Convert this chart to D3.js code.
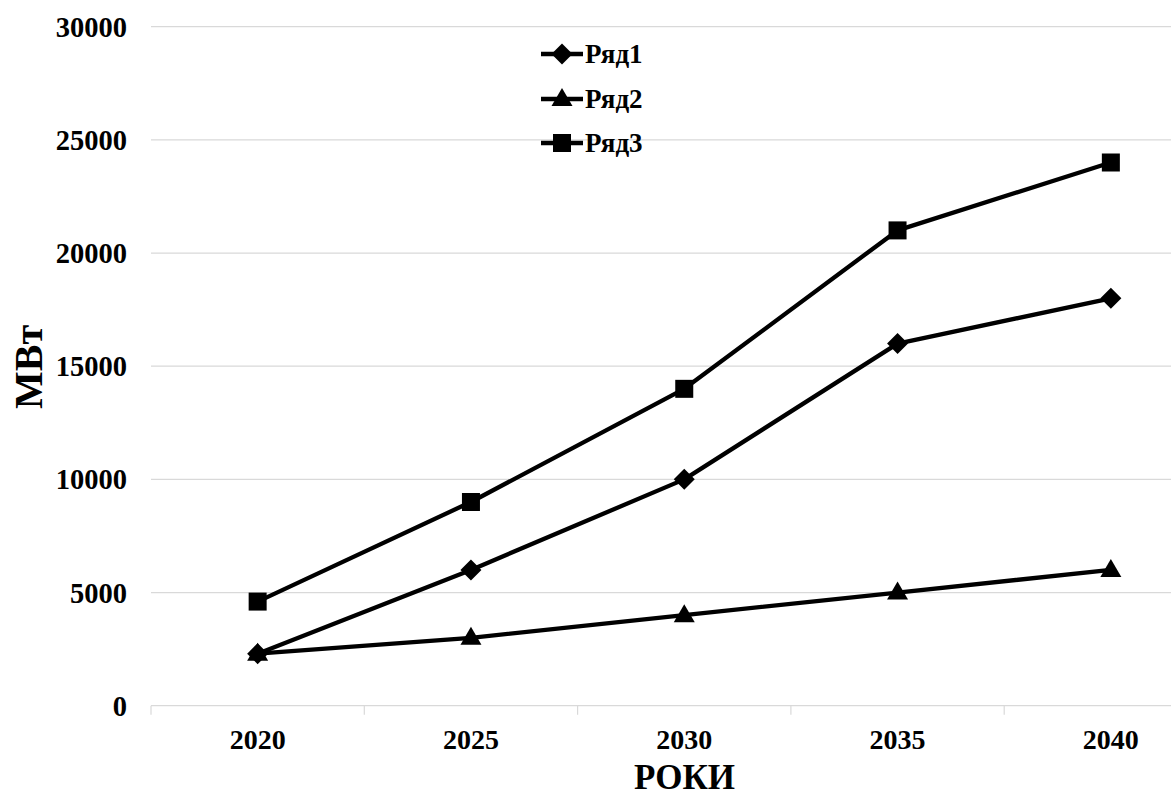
<!DOCTYPE html>
<html><head><meta charset="utf-8">
<script src="https://cdn.jsdelivr.net/npm/d3@7"></script>
<style>body{margin:0;background:#fff}svg{display:block}</style>
</head><body>
<svg id="c" width="1171" height="798"></svg>
<script>
const categories = ["2020","2025","2030","2035","2040"];
const series1 = [2300, 6000, 10000, 16000, 18000];
const series2 = [2300, 3000, 4000, 5000, 6000];
const series3 = [4600, 9000, 14000, 21000, 24000];
const seriesNames = ["Ряд1","Ряд2","Ряд3"];
const yTicks = [0, 5000, 10000, 15000, 20000, 25000, 30000];

(function () {
const svg = d3.select("#c");
const font = "'Liberation Serif','Times New Roman',serif";
const pLeft = 151, pRight = 1217.5, pTop = 26.7, pBottom = 705.7;

const x = d3.scaleBand().domain(categories).range([pLeft, pRight]);
const y = d3.scaleLinear().domain([0, 30000]).range([pBottom, pTop]);

// gridlines
svg.append("g").selectAll("line").data(yTicks).join("line")
  .attr("x1", pLeft).attr("x2", pRight)
  .attr("y1", d => y(d)).attr("y2", d => y(d))
  .attr("stroke", "#d9d9d9").attr("stroke-width", 1.2);

// y labels
svg.append("g").selectAll("text").data(yTicks).join("text")
  .attr("x", 127).attr("y", d => y(d)).attr("dy", "0.35em")
  .attr("text-anchor", "end").attr("font-family", font).attr("font-weight", "bold")
  .attr("font-size", 28.5).attr("fill", "#000").text(d => d);

// x axis
const xAxis = svg.append("g").attr("transform", `translate(0,${pBottom})`)
  .call(d3.axisBottom(x).tickSize(0).tickPadding(0));
xAxis.select(".domain").remove();
xAxis.selectAll("text").attr("font-family", font).attr("font-weight", "bold")
  .attr("font-size", 28).attr("fill", "#000").attr("dy", 0).attr("y", 43);
// category boundary ticks
const bounds = categories.map(c => x(c)).concat([pRight]);
svg.append("g").selectAll("line").data(bounds).join("line")
  .attr("x1", d => d).attr("x2", d => d).attr("y1", pBottom).attr("y2", pBottom + 9)
  .attr("stroke", "#d9d9d9").attr("stroke-width", 1.2);

// titles
svg.append("text").attr("x", 684.5).attr("y", 789).attr("text-anchor", "middle")
  .attr("font-family", font).attr("font-weight", "bold").attr("font-size", 35).text("РОКИ");
svg.append("text").attr("transform", "translate(42,367) rotate(-90)").attr("text-anchor", "middle")
  .attr("font-family", font).attr("font-weight", "bold").attr("font-size", 40).text("МВт");

const cx = c => x(c) + x.bandwidth() / 2;
const line = d3.line().x((d, i) => cx(categories[i])).y(d => y(d));
const allSeries = [series1, series2, series3];

function marker(g, i, tx, ty) {
  if (i === 0) {
    const s = 10.5;
    g.append("path").attr("d", `M${tx},${ty - s}L${tx + s},${ty}L${tx},${ty + s}L${tx - s},${ty}Z`).attr("fill", "#000");
  } else if (i === 1) {
    g.append("path").attr("d", `M${tx},${ty - 11}L${tx + 10.5},${ty + 7}L${tx - 10.5},${ty + 7}Z`).attr("fill", "#000");
  } else {
    g.append("rect").attr("x", tx - 9).attr("y", ty - 9).attr("width", 18).attr("height", 18).attr("fill", "#000");
  }
}

const drawOrder = [2, 0, 1];
drawOrder.forEach(i => {
  const vals = allSeries[i];
  const g = svg.append("g");
  g.append("path").datum(vals).attr("d", line).attr("fill", "none")
    .attr("stroke", "#000").attr("stroke-width", 4.3).attr("stroke-linejoin", "round");
  vals.forEach((v, k) => marker(g, i, cx(categories[k]), y(v)));
});

// legend
const legY = [54, 99, 143];
seriesNames.forEach((n, i) => {
  const g = svg.append("g");
  g.append("line").attr("x1", 541).attr("x2", 583).attr("y1", legY[i]).attr("y2", legY[i])
    .attr("stroke", "#000").attr("stroke-width", 4.3);
  marker(g, i, 562, legY[i]);
  g.append("text").attr("x", 585).attr("y", legY[i]).attr("dy", "0.35em")
    .attr("font-family", font).attr("font-weight", "bold").attr("font-size", 27).text(n);
});
})();
</script>
</body></html>
